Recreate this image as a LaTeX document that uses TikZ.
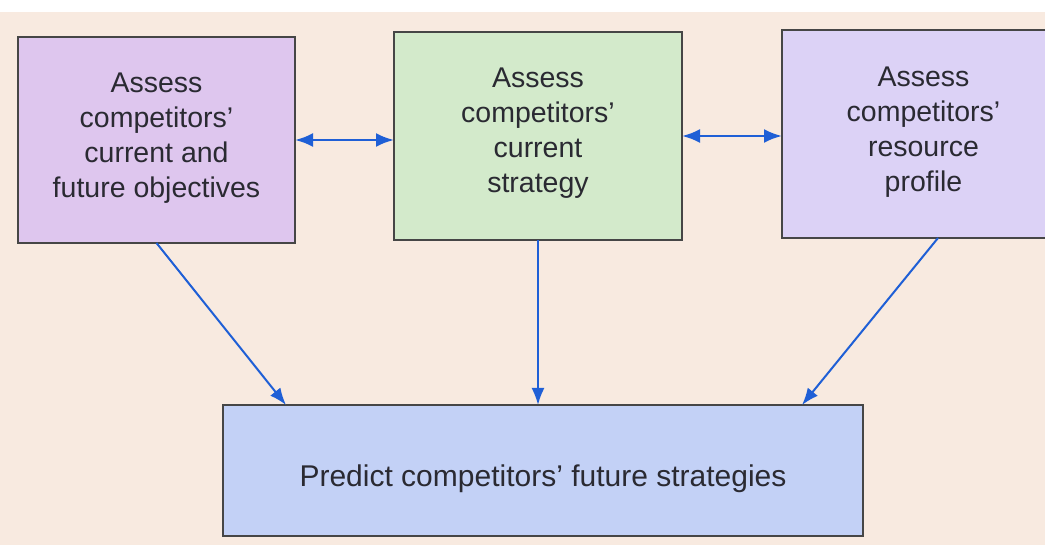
\documentclass[tikz,border=0pt]{standalone}
\usepackage{fontspec}
\setmainfont{Liberation Sans}
\usetikzlibrary{arrows.meta}
\definecolor{bg}{HTML}{F8EAE0}
\definecolor{fobj}{HTML}{DEC6EE}
\definecolor{fstr}{HTML}{D3EACB}
\definecolor{fres}{HTML}{DCD2F6}
\definecolor{fpred}{HTML}{C3D1F6}
\definecolor{edgecol}{HTML}{464646}
\definecolor{arr}{HTML}{1F5FD6}
\definecolor{ink}{HTML}{2A2A32}
\begin{document}
\begin{tikzpicture}[x=1pt,y=-1pt,
  box/.style={draw=edgecol, line width=2pt, inner sep=0pt, outer sep=0pt, anchor=north west},
  boxtext/.style={align=center, text=ink, font=\fontsize{28.5}{35}\selectfont, inner sep=0pt},
  link/.style={draw=arr, line width=2pt, -{Latex[length=17pt,width=13pt]}},
  both/.style={draw=arr, line width=2.6pt, {Latex[length=18pt,width=14pt]}-{Latex[length=18pt,width=14pt]}}]
\useasboundingbox (0,0) rectangle (1045,545);
\clip (0,0) rectangle (1045,545);
\fill[bg] (0,0) rectangle (1045,545);
\fill[white] (0,0) rectangle (1045,12);

\node[box, fill=fobj, minimum width=277pt, minimum height=206pt] (obj) at (18,37) {};
\node[box, fill=fstr, minimum width=288pt, minimum height=208pt] (str) at (394,32) {};
\node[box, fill=fres, minimum width=283pt, minimum height=208pt] (res) at (782,30) {};
\node[box, fill=fpred, minimum width=640pt, minimum height=131pt] (pred) at (223,405) {};

\node[boxtext] (tobj) at ([yshift=1.5pt]obj.center) {Assess\\competitors'\\current and\\future objectives};
\node[boxtext] (tstr) at ([yshift=2.5pt]str.center) {Assess\\competitors'\\current\\strategy};
\node[boxtext] (tres) at ([yshift=1.5pt]res.center) {Assess\\competitors'\\resource\\profile};
\node[boxtext, font=\fontsize{30}{35}\selectfont] (tpred) at ([yshift=-8pt]pred.center) {Predict competitors' future strategies};

\draw[both] (obj.east) -- (obj.east -| str.west);
\draw[both] (str.east) -- (str.east -| res.west);

\draw[link] (obj.south) -- ([xshift=63pt]pred.north west);
\draw[link] (str.south) -- (str.south |- pred.north);
\draw[link] ([xshift=14.5pt]res.south) -- ([xshift=-61pt]pred.north east);
\end{tikzpicture}
\end{document}
